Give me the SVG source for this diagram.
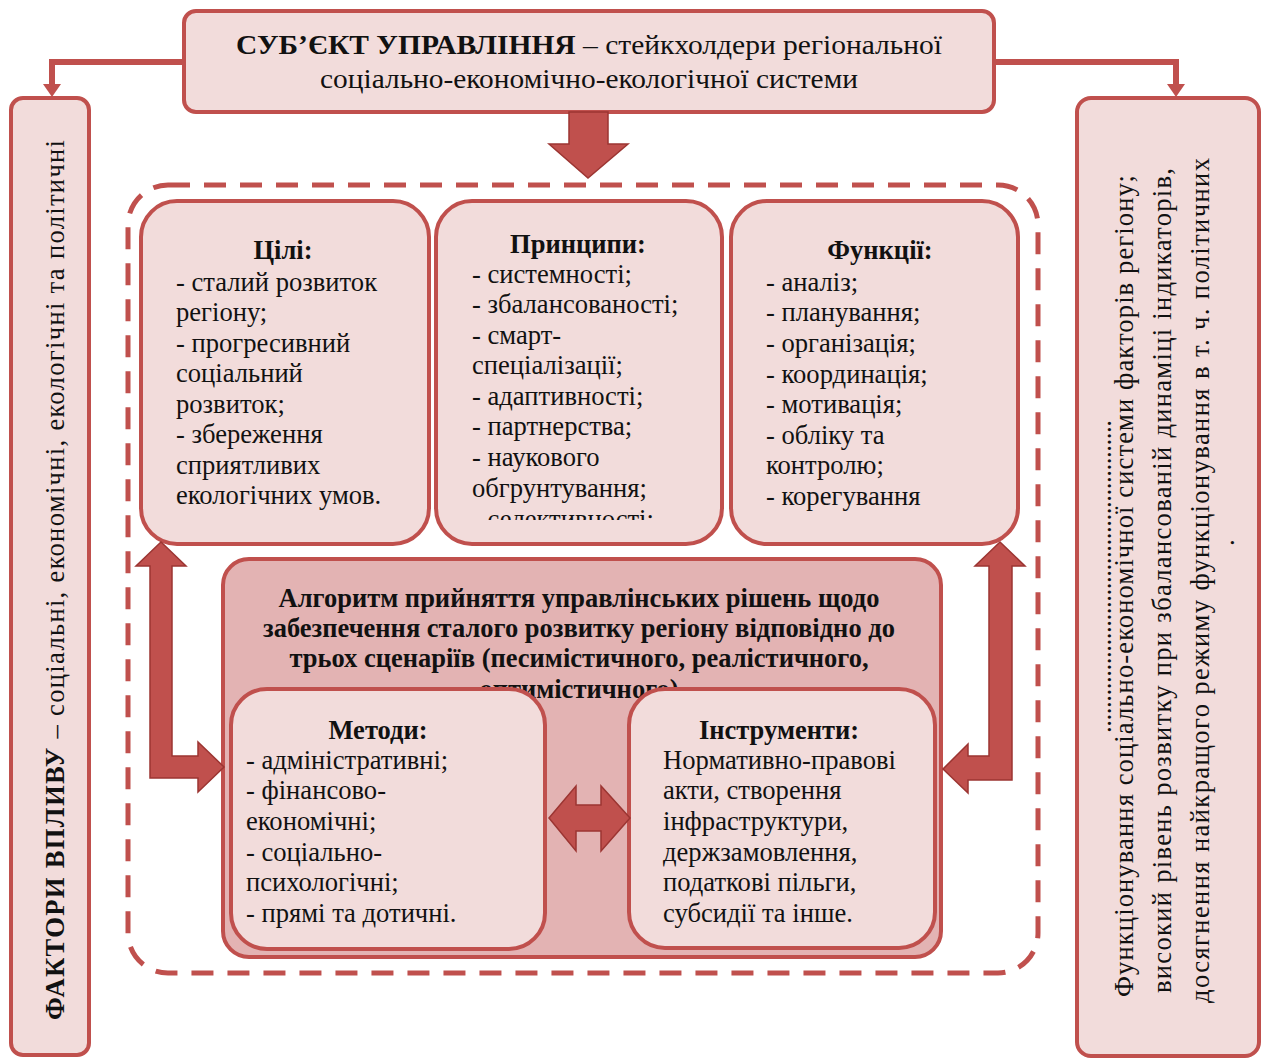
<svg xmlns="http://www.w3.org/2000/svg" width="1262" height="1061" viewBox="0 0 1262 1061">
<defs>
<style>
.box{fill:#f2dcdb;stroke:#c0504d;stroke-width:4}
.alg{fill:#e3b3b3;stroke:#c0504d;stroke-width:4}
.t{font-family:"Liberation Serif","Times New Roman",serif;font-size:26.6px;fill:#111}
.b{font-weight:bold}
.h{font-family:"Liberation Serif","Times New Roman",serif;font-size:26.5px;font-weight:bold;fill:#111;text-anchor:middle}
.ln{fill:none;stroke:#c0504d;stroke-width:6}
.ar{fill:#c0504d;stroke:#9c3532;stroke-width:1.5}
</style>
<clipPath id="clipP"><rect x="440" y="200" width="280" height="320"/></clipPath>
</defs>
<rect width="1262" height="1061" fill="#ffffff"/>

<g id="subject">
<rect class="box" x="184" y="11" width="810" height="101" rx="12"/>
<text class="t" x="236" y="54" font-size="28" textLength="706" lengthAdjust="spacingAndGlyphs"><tspan class="b">СУБ’ЄКТ УПРАВЛІННЯ</tspan> – стейкхолдери регіональної</text>
<text class="t" x="320" y="88" font-size="28" textLength="538" lengthAdjust="spacingAndGlyphs">соціально-економічно-екологічної системи</text>
</g>

<g id="factors">
<rect class="box" x="11" y="98" width="78" height="957" rx="12"/>
<text class="t" transform="translate(64,1020) rotate(-90)" font-size="28" textLength="880" lengthAdjust="spacing"><tspan class="b">ФАКТОРИ ВПЛИВУ</tspan> – соціальні, економічні, екологічні та політичні</text>
</g>

<g id="result">
<rect class="box" x="1077" y="98" width="182" height="958" rx="14"/>
<text class="t" transform="translate(1111,733) rotate(-90)" font-size="22" textLength="313" lengthAdjust="spacing">..................................................</text>
<text class="t" transform="translate(1133,997) rotate(-90)" font-size="26" textLength="822" lengthAdjust="spacing">Функціонування соціально-економічної системи факторів регіону;</text>
<text class="t" transform="translate(1171,993) rotate(-90)" font-size="26" textLength="825" lengthAdjust="spacing">високий рівень розвитку при збалансованій динаміці індикаторів,</text>
<text class="t" transform="translate(1209,1003) rotate(-90)" font-size="26" textLength="845" lengthAdjust="spacing">досягнення найкращого режиму функціонування в т. ч. політичних</text>
<text class="t" transform="translate(1234,546) rotate(-90)" font-size="24">.</text>
</g>

<g id="frame">
<rect x="128" y="185" width="910" height="788" rx="40" fill="none" stroke="#c0504d" stroke-width="5" stroke-dasharray="22 14"/>
</g>

<g id="goals">
<rect class="box" x="141" y="201" width="288" height="343" rx="36"/>
<text class="h" x="283" y="259">Цілі:</text>
<text class="t" x="176" y="291">- сталий розвиток</text>
<text class="t" x="176" y="321">регіону;</text>
<text class="t" x="176" y="352">- прогресивний</text>
<text class="t" x="176" y="382">соціальний</text>
<text class="t" x="176" y="413">розвиток;</text>
<text class="t" x="176" y="443">- збереження</text>
<text class="t" x="176" y="474">сприятливих</text>
<text class="t" x="176" y="504">екологічних умов.</text>
</g>

<g id="principles">
<rect class="box" x="436" y="201" width="286" height="343" rx="36"/>
<text class="h" x="578" y="253">Принципи:</text>
<g clip-path="url(#clipP)">
<text class="t" x="472" y="283">- системності;</text>
<text class="t" x="472" y="313">- збалансованості;</text>
<text class="t" x="472" y="344">- смарт-</text>
<text class="t" x="472" y="374">спеціалізації;</text>
<text class="t" x="472" y="405">- адаптивності;</text>
<text class="t" x="472" y="435">- партнерства;</text>
<text class="t" x="472" y="466">- наукового</text>
<text class="t" x="472" y="497">обгрунтування;</text>
<text class="t" x="472" y="528">- селективності;</text>
</g>
</g>

<g id="functions">
<rect class="box" x="731" y="201" width="287" height="343" rx="36"/>
<text class="h" x="880" y="259">Функції:</text>
<text class="t" x="766" y="291">- аналіз;</text>
<text class="t" x="766" y="321">- планування;</text>
<text class="t" x="766" y="352">- організація;</text>
<text class="t" x="766" y="383">- координація;</text>
<text class="t" x="766" y="413">- мотивація;</text>
<text class="t" x="766" y="444">- обліку та</text>
<text class="t" x="766" y="474">контролю;</text>
<text class="t" x="766" y="505">- корегування</text>
</g>

<g id="algorithm">
<rect class="alg" x="223" y="559" width="718" height="398" rx="26"/>
<text class="h" x="579" y="607" font-size="25.7">Алгоритм прийняття управлінських рішень щодо</text>
<text class="h" x="579" y="637" font-size="25.7">забезпечення сталого розвитку регіону відповідно до</text>
<text class="h" x="579" y="667" font-size="25.7">трьох сценаріїв (песимістичного, реалістичного,</text>
<text class="h" x="579" y="698" font-size="25.7">оптимістичного)</text>
</g>

<g id="methods">
<rect class="box" x="231" y="689" width="314" height="260" rx="36"/>
<text class="h" x="378" y="739">Методи:</text>
<text class="t" x="246" y="769">- адміністративні;</text>
<text class="t" x="246" y="799">- фінансово-</text>
<text class="t" x="246" y="830">економічні;</text>
<text class="t" x="246" y="861">- соціально-</text>
<text class="t" x="246" y="891">психологічні;</text>
<text class="t" x="246" y="922">- прямі та дотичні.</text>
</g>

<g id="instruments">
<rect class="box" x="629" y="689" width="306" height="259" rx="36"/>
<text class="h" x="779" y="739">Інструменти:</text>
<text class="t" x="663" y="769">Нормативно-правові</text>
<text class="t" x="663" y="799">акти, створення</text>
<text class="t" x="663" y="830">інфраструктури,</text>
<text class="t" x="663" y="861">держзамовлення,</text>
<text class="t" x="663" y="891">податкові пільги,</text>
<text class="t" x="663" y="922">субсидії та інше.</text>
</g>

<g id="connectors">
<polyline class="ln" points="184,62 52,62 52,86"/>
<polygon fill="#c0504d" points="43,84 61,84 52,97"/>
<polyline class="ln" points="994,62 1176,62 1176,86"/>
<polygon fill="#c0504d" points="1167,84 1185,84 1176,97"/>
<polygon class="ar" points="569,112 608,112 608,144 628,144 588,178 549,144 569,144"/>
<polygon class="ar" points="150,566 136,566 161,542 186,566 172,566 172,756 198,756 198,742 224,767 198,792 198,778 150,778"/>
<polygon class="ar" points="1012,566 1025,566 1000,542 975,566 989,566 989,756 968,756 968,744 943,769 968,793 968,780 1012,780"/>
<polygon class="ar" points="549,818 576,786 576,805 601,805 601,786 630,818 601,851 601,831 576,831 576,851"/>
</g>
</svg>
